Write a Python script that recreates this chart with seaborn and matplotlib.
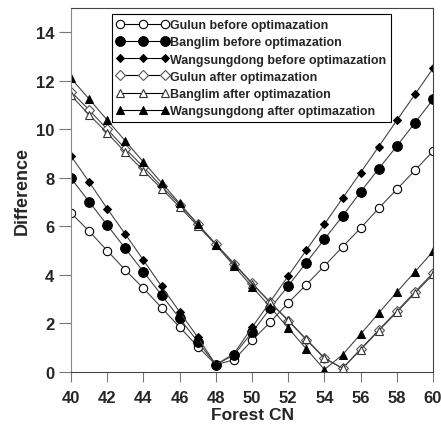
import numpy as np
import pandas as pd
import matplotlib
matplotlib.use("Agg")
import matplotlib.pyplot as plt
import seaborn as sns

forest_cn = list(range(40, 61))

gulun_before = [6.55, 5.8, 5.0, 4.2, 3.45, 2.65, 1.85, 1.05, 0.3, 0.5, 1.3,
                2.05, 2.85, 3.6, 4.37, 5.16, 5.93, 6.75, 7.53, 8.31, 9.1]
banglim_before = [7.98, 7.02, 6.05, 5.09, 4.13, 3.17, 2.21, 1.25, 0.3, 0.7, 1.63,
                  2.62, 3.55, 4.51, 5.47, 6.43, 7.42, 8.38, 9.31, 10.27, 11.23]
wangsungdong_before = [8.9, 7.83, 6.73, 5.68, 4.61, 3.53, 2.48, 1.43, 0.3, 0.75, 1.84,
                       2.89, 3.96, 5.02, 6.09, 7.16, 8.22, 9.29, 10.37, 11.44, 12.51]
gulun_after = [11.55, 10.8, 10.0, 9.2, 8.45, 7.65, 6.9, 6.1, 5.27, 4.47, 3.66,
               2.87, 2.11, 1.33, 0.56, 0.15, 0.95, 1.73, 2.51, 3.3, 4.08]
banglim_after = [11.4, 10.6, 9.85, 9.05, 8.3, 7.55, 6.8, 6.02, 5.25, 4.47, 3.64,
                 2.87, 2.13, 1.35, 0.58, 0.15, 0.92, 1.7, 2.47, 3.25, 4.02]
wangsungdong_after = [12.1, 11.25, 10.38, 9.52, 8.65, 7.8, 6.95, 6.08, 5.24, 4.37, 3.51,
                      2.68, 1.81, 0.95, 0.1, 0.71, 1.56, 2.43, 3.29, 4.13, 4.97]

labels = ["Gulun before optimazation", "Banglim before optimazation",
          "Wangsungdong before optimazation", "Gulun after optimazation",
          "Banglim after optimazation", "Wangsungdong after optimazation"]

sns.set_style("ticks")
plt.rcParams['font.family'] = ['Liberation Sans', 'DejaVu Sans']
plt.rcParams['font.weight'] = 'bold'

fig = plt.figure(figsize=(4.41, 4.27), dpi=100)
ax = fig.add_axes([0.161, 0.1265, 0.821, 0.8525])

series = [gulun_before, banglim_before, wangsungdong_before,
          gulun_after, banglim_after, wangsungdong_after]
styles = [
    dict(marker='o', markersize=6, markerfacecolor='white', markeredgecolor='black', markeredgewidth=0.8),
    dict(marker='o', markersize=7, markerfacecolor='black', markeredgecolor='black'),
    dict(marker='D', markersize=4.5, markerfacecolor='black', markeredgecolor='black'),
    dict(marker='D', markersize=5, markerfacecolor='white', markeredgecolor='#555555', markeredgewidth=0.8),
    dict(marker='^', markersize=6, markerfacecolor='white', markeredgecolor='#333333', markeredgewidth=0.8),
    dict(marker='^', markersize=6, markerfacecolor='black', markeredgecolor='black'),
]

for vals, lab, st in zip(series, labels, styles):
    df = pd.DataFrame({'Forest CN': forest_cn, 'Difference': vals})
    sns.lineplot(data=df, x='Forest CN', y='Difference', ax=ax, label=lab,
                 color='#444444', linewidth=0.8, **st)

ax.set_xlim(40, 60)
ax.set_ylim(0, 15)
ax.set_xticks(range(40, 61, 2))
ax.set_yticks(range(0, 15, 2))
ax.tick_params(axis='y', direction='out', length=9, width=0.8, color='#777777', labelsize=12, pad=3)
ax.tick_params(axis='x', direction='out', length=7, width=0.8, color='#777777', labelsize=12, pad=6)
for lab in ax.get_xticklabels() + ax.get_yticklabels():
    lab.set_fontweight('bold')
ax.set_xlabel('Forest CN', fontsize=12.5, fontweight='bold', labelpad=1.5)
ax.set_ylabel('Difference', fontsize=13, fontweight='bold', labelpad=4)
for side in ['top', 'right', 'bottom']:
    ax.spines[side].set_color('#444444')
    ax.spines[side].set_linewidth(0.8)
ax.spines['left'].set_color('#888888')
ax.spines['left'].set_linewidth(0.8)

leg = ax.legend(loc='upper left', bbox_to_anchor=(0.105, 0.99), numpoints=3,
                frameon=True, fancybox=False, edgecolor='black', framealpha=1,
                prop={'weight': 'bold', 'size': 9}, handlelength=4.2,
                handletextpad=0.1, labelspacing=0.42, borderpad=0.4,
                borderaxespad=0.2)
leg.get_frame().set_linewidth(0.8)
for h in leg.get_lines():
    h.set_color('black')

fig.savefig('out.png', dpi=100)
